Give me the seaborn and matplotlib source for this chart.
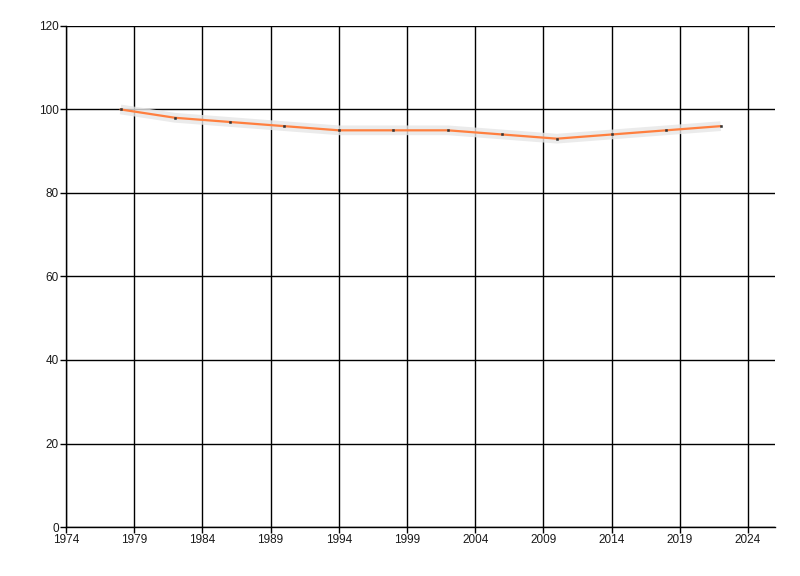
import numpy as np
import matplotlib
matplotlib.use('Agg')
import matplotlib.pyplot as plt
import seaborn as sns

years = [1978, 1982, 1986, 1990, 1994, 1998, 2002, 2006, 2010, 2014, 2018, 2022]
values = [100, 98, 97, 96, 95, 95, 95, 94, 93, 94, 95, 96]
x_ticks = [1974, 1979, 1984, 1989, 1994, 1999, 2004, 2009, 2014, 2019, 2024]
y_ticks = [0, 20, 40, 60, 80, 100, 120]

sns.set_style('white')
plt.rcParams['font.family'] = ['Liberation Sans', 'DejaVu Sans']

fig = plt.figure(figsize=(8, 5.76), dpi=100)
ax = fig.add_axes([0.0825, 0.085, 0.8865, 0.87])

# soft shadow under the line
sns.lineplot(x=years, y=values, ax=ax, color='#e6e6e6', linewidth=7,
             alpha=0.8, solid_capstyle='butt', zorder=3)
sns.lineplot(x=years, y=values, ax=ax, color='#ff7f3f', linewidth=1.6,
             marker='s', markersize=1.4, markerfacecolor='#333333',
             markeredgecolor='#333333', markeredgewidth=0.4, zorder=4)

ax.set_xlim(1974, 2026)
ax.set_ylim(0, 120)
ax.set_xticks(x_ticks)
ax.set_yticks(y_ticks)
ax.grid(True, color='black', linewidth=1)
ax.set_axisbelow(True)
for s in ['top', 'right']:
    ax.spines[s].set_visible(False)
for s in ['left', 'bottom']:
    ax.spines[s].set_color('black')
    ax.spines[s].set_linewidth(1)
ax.tick_params(axis='both', direction='out', length=4, width=1, color='black',
               labelsize=8.5, labelcolor='#1a1a1a', pad=1, left=True, bottom=True)
ax.set_xlabel('')
ax.set_ylabel('')

fig.savefig('out.png', dpi=100)
